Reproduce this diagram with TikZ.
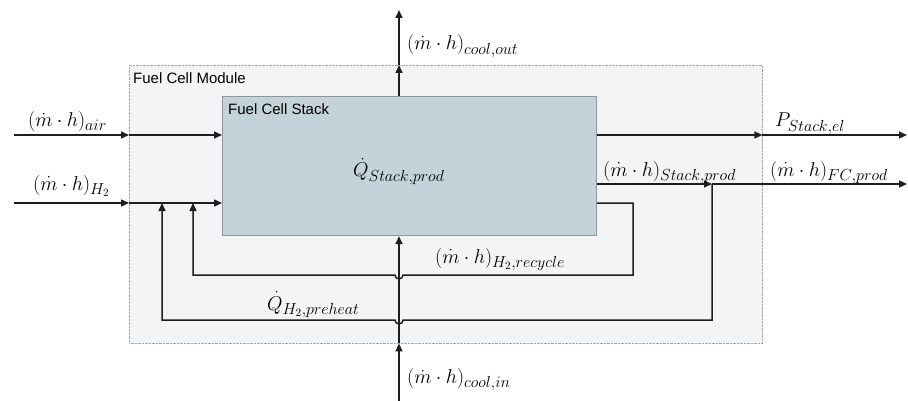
\documentclass[tikz,border=0pt]{standalone}
\usepackage{fix-cm}
\usepackage{fontspec}
\newfontfamily\boxfont{Liberation Sans}
\usetikzlibrary{arrows.meta}
\newcommand{\flowsub}[1]{_{\mbox{\fontsize{16}{19}\selectfont$#1$}}}
\definecolor{moduleback}{HTML}{F3F4F6}
\definecolor{moduleline}{HTML}{A6A6A6}
\definecolor{stackfill}{HTML}{C4D2D9}
\definecolor{stackline}{HTML}{8C979C}
\definecolor{flowline}{HTML}{1E1E1E}
\tikzset{
  flow/.style={draw=flowline, line width=1.5pt, -{Triangle[length=8pt,width=7pt]}},
  qty/.style={font=\fontsize{20}{24}\selectfont, inner sep=0pt, anchor=base west},
  boxtitle/.style={font=\boxfont\fontsize{15}{18}\selectfont, inner sep=0pt, anchor=base west},
}

\begin{document}
\begin{tikzpicture}[x=1pt, y=-1pt]
  \useasboundingbox (0,0) rectangle (908,401);
  % module and stack
  \node[draw=moduleline, densely dotted, fill=moduleback, inner sep=0pt,
        minimum width=633pt, minimum height=278pt, anchor=north west] (module) at (129,65) {};
  \node[draw=stackline, line width=1.2pt, fill=stackfill, inner sep=0pt,
        minimum width=374pt, minimum height=139pt, anchor=north west] (stack) at (222,96) {};
  \node[boxtitle] (moduletitle) at (133,84) {Fuel Cell Module};
  \node[boxtitle] (stacktitle) at (228,115) {Fuel Cell Stack};
  \node[qty] (heat) at (353,177) {$\dot Q\flowsub{Stack{,}prod}$};

  % end points and junctions
  \coordinate (airin) at (14,135);
  \coordinate (h2in) at (14,203);
  \coordinate (cooltop) at (399,10);
  \coordinate (coolbot) at (399,401);
  \coordinate (pout) at (907,135);
  \coordinate (fcout) at (907,184);
  \coordinate (split) at (712,184);
  \coordinate (recycle) at (633,275);
  \coordinate (preheat) at (712,320);
  \coordinate (joinrec) at (193,203);
  \coordinate (joinpre) at (162,203);
  \coordinate (jumprec) at (coolbot |- recycle);
  \coordinate (jumppre) at (coolbot |- preheat);

  % inputs
  \draw[flow] (airin) -- (module.west |- airin);
  \draw[flow] (module.west |- airin) -- (stack.west |- airin);
  \draw[flow] (h2in) -- (module.west |- h2in);
  \draw[flow] (module.west |- h2in) -- (stack.west |- h2in);
  \draw[flow] (coolbot) -- (module.south -| coolbot);
  \draw[flow] (module.south -| coolbot) -- (stack.south -| coolbot);

  % outputs
  \draw[flow] (stack.north -| cooltop) -- (module.north -| cooltop);
  \draw[flow] (module.north -| cooltop) -- (cooltop);
  \draw[flow] (stack.east |- pout) -- (module.east |- pout);
  \draw[flow] (module.east |- pout) -- (pout);
  \draw[flow] (stack.east |- split) -- (split);
  \draw[flow] (split) -- (fcout);

  % return loops
  \draw[flow] (stack.east |- joinrec) -| (recycle) -- ([xshift=4pt]jumprec)
    arc[start angle=0, end angle=-180, radius=4pt] -- (joinrec |- recycle) -- (joinrec);
  \draw[flow] (split) -- (preheat) -- ([xshift=4pt]jumppre)
    arc[start angle=0, end angle=-180, radius=4pt] -- (joinpre |- preheat) -- (joinpre);

  % labels
  \node[qty] (airlabel) at (28,127) {$(\dot m\cdot h)\flowsub{air}$};
  \node[qty] (h2label) at (33,190) {$(\dot m\cdot h)\flowsub{H_2}$};
  \node[qty] (coutlabel) at (407,50) {$(\dot m\cdot h)\flowsub{cool{,}out}$};
  \node[qty] (cinlabel) at (407,383) {$(\dot m\cdot h)\flowsub{cool{,}in}$};
  \node[qty] (plabel) at (775,127) {$P\flowsub{Stack{,}el}$};
  \node[qty] (stprodlabel) at (603,176) {$(\dot m\cdot h)\flowsub{Stack{,}prod}$};
  \node[qty] (fcprodlabel) at (770,176) {$(\dot m\cdot h)\flowsub{FC{,}prod}$};
  \node[qty] (reclabel) at (435,263) {$(\dot m\cdot h)\flowsub{H_2{,}recycle}$};
  \node[qty] (prelabel) at (267,310) {$\dot Q\flowsub{H_2{,}preheat}$};
\end{tikzpicture}
\end{document}
